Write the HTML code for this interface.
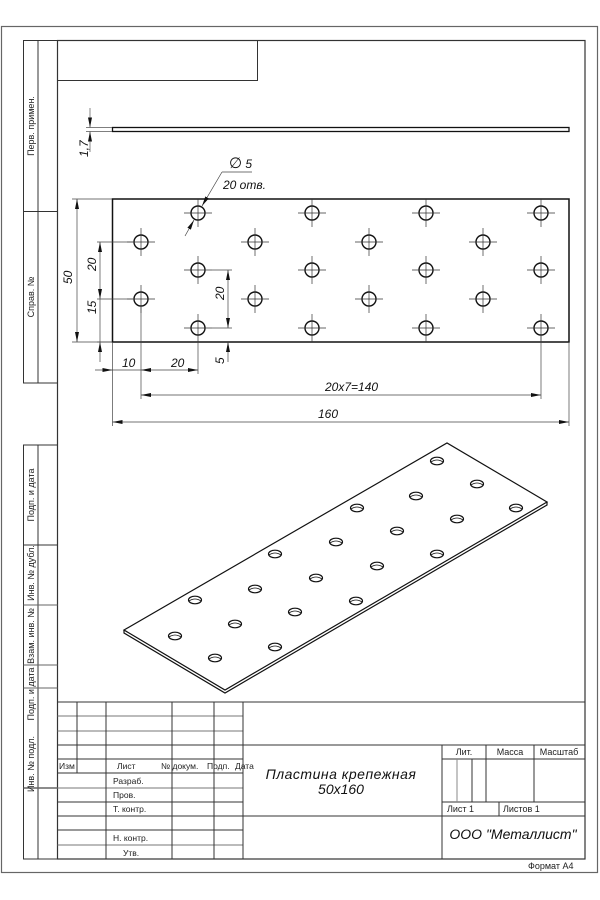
<!DOCTYPE html>
<html><head><meta charset="utf-8"><style>
html,body{margin:0;padding:0;background:#fff}
svg{display:block}
.s{font-family:"Liberation Sans",sans-serif;font-size:8.5px;fill:#222}
.v{font-family:"Liberation Sans",sans-serif;font-size:9px;fill:#222}
.i{font-family:"Liberation Sans",sans-serif;font-style:italic;fill:#111}
</style></head><body>
<svg width="600" height="900" viewBox="0 0 600 900" xmlns="http://www.w3.org/2000/svg">
<defs>
<marker id="a" viewBox="0 0 10 4" refX="10" refY="2" markerWidth="10" markerHeight="4" orient="auto-start-reverse" markerUnits="userSpaceOnUse"><path d="M0,0 L10,2 L0,4 Z" fill="#111"/></marker>
</defs>
<rect x="1.5" y="26.5" width="596" height="846" fill="none" stroke="#666" stroke-width="1.2"/>
<rect x="57.5" y="40.5" width="527.5" height="818.5" fill="none" stroke="#333" stroke-width="1.2"/>
<polyline points="57.5,40.5 23.5,40.5 23.5,383 57.5,383" fill="none" stroke="#333"/>
<line x1="38" y1="40.5" x2="38" y2="383" stroke="#333"/>
<line x1="23.5" y1="211.5" x2="57.5" y2="211.5" stroke="#333"/>
<polyline points="57.5,445 23.5,445 23.5,859 57.5,859" fill="none" stroke="#333"/>
<line x1="38" y1="445" x2="38" y2="859" stroke="#333"/>
<line x1="23.5" y1="545" x2="57.5" y2="545" stroke="#333"/>
<line x1="23.5" y1="605" x2="57.5" y2="605" stroke="#666"/>
<line x1="23.5" y1="665" x2="57.5" y2="665" stroke="#666"/>
<line x1="23.5" y1="688" x2="57.5" y2="688" stroke="#666"/>
<line x1="23.5" y1="788" x2="57.5" y2="788" stroke="#666" stroke-width="1.5"/>
<g class="v">
<text transform="translate(34,126) rotate(-90)" text-anchor="middle">Перв. примен.</text>
<text transform="translate(34,297) rotate(-90)" text-anchor="middle">Справ. №</text>
<text transform="translate(34,495) rotate(-90)" text-anchor="middle">Подп. и дата</text>
<text transform="translate(34,573) rotate(-90)" text-anchor="middle">Инв. № дубл.</text>
<text transform="translate(34,636) rotate(-90)" text-anchor="middle">Взам. инв. №</text>
<text transform="translate(34,694) rotate(-90)" text-anchor="middle">Подп. и дата</text>
<text transform="translate(34,764) rotate(-90)" text-anchor="middle">Инв. № подл.</text>
</g>
<polyline points="57.5,80.5 257.5,80.5 257.5,40.5" fill="none" stroke="#333"/>

<rect x="112.5" y="127.5" width="456.5" height="4" fill="none" stroke="#111" stroke-width="1.3"/>
<g stroke="#555" stroke-width="0.7">
<line x1="86" y1="127.5" x2="112" y2="127.5"/><line x1="86" y1="131.5" x2="112" y2="131.5"/>
<line x1="90" y1="108" x2="90" y2="127.5" marker-end="url(#a)"/>
<line x1="90" y1="152" x2="90" y2="131.5" marker-end="url(#a)"/>
</g>
<text class="i" font-size="12" transform="translate(88,157) rotate(-90)">1,7</text>

<rect x="112.5" y="199" width="456.5" height="143" fill="none" stroke="#111" stroke-width="1.5"/>
<g fill="none" stroke="#111" stroke-width="1.4">
<circle cx="198" cy="213" r="7"/><circle cx="312" cy="213" r="7"/><circle cx="426" cy="213" r="7"/><circle cx="541" cy="213" r="7"/>
<circle cx="141" cy="242" r="7"/><circle cx="255" cy="242" r="7"/><circle cx="369" cy="242" r="7"/><circle cx="483" cy="242" r="7"/>
<circle cx="198" cy="270" r="7"/><circle cx="312" cy="270" r="7"/><circle cx="426" cy="270" r="7"/><circle cx="541" cy="270" r="7"/>
<circle cx="141" cy="299" r="7"/><circle cx="255" cy="299" r="7"/><circle cx="369" cy="299" r="7"/><circle cx="483" cy="299" r="7"/>
<circle cx="198" cy="328" r="7"/><circle cx="312" cy="328" r="7"/><circle cx="426" cy="328" r="7"/><circle cx="541" cy="328" r="7"/>
</g>
<g stroke="#333" stroke-width="0.7">
<path d="M184,213h28M198,199v28M298,213h28M312,199v28M412,213h28M426,199v28M527,213h28M541,199v28
M127,242h28M141,228v28M241,242h28M255,228v28M355,242h28M369,228v28M469,242h28M483,228v28
M184,270h28M198,256v28M298,270h28M312,256v28M412,270h28M426,256v28M527,270h28M541,256v28
M127,299h28M141,285v28M241,299h28M255,285v28M355,299h28M369,285v28M469,299h28M483,285v28
M184,328h28M198,314v28M298,328h28M312,314v28M412,328h28M426,314v28M527,328h28M541,314v28"/>
</g>
<g stroke="#444" stroke-width="0.7" fill="none">
<line x1="72" y1="199" x2="112" y2="199"/><line x1="72" y1="342" x2="112" y2="342"/>
<line x1="77" y1="199" x2="77" y2="342" marker-start="url(#a)" marker-end="url(#a)"/>
<line x1="97" y1="242" x2="134" y2="242"/><line x1="97" y1="299" x2="134" y2="299"/><line x1="97" y1="342" x2="112" y2="342"/>
<line x1="100" y1="242" x2="100" y2="299" marker-start="url(#a)" marker-end="url(#a)"/>
<line x1="100" y1="362" x2="100" y2="342" marker-end="url(#a)"/>
<line x1="100" y1="299" x2="100" y2="342"/>
<line x1="212" y1="270" x2="232" y2="270"/><line x1="212" y1="328" x2="232" y2="328"/>
<line x1="228" y1="270" x2="228" y2="328" marker-start="url(#a)" marker-end="url(#a)"/>
<line x1="228" y1="362" x2="228" y2="342" marker-end="url(#a)"/>
<line x1="112.5" y1="342" x2="112.5" y2="426"/>
<line x1="141" y1="306" x2="141" y2="399"/>
<line x1="198" y1="342" x2="198" y2="374"/>
<line x1="541" y1="335" x2="541" y2="399"/>
<line x1="569" y1="342" x2="569" y2="426"/>
<line x1="95" y1="370" x2="112.5" y2="370" marker-end="url(#a)"/>
<line x1="112.5" y1="370" x2="141" y2="370"/>
<line x1="141" y1="370" x2="198" y2="370" marker-start="url(#a)" marker-end="url(#a)"/>
<line x1="141" y1="395" x2="541" y2="395" marker-start="url(#a)" marker-end="url(#a)"/>
<line x1="112.5" y1="422" x2="569" y2="422" marker-start="url(#a)" marker-end="url(#a)"/>
<line x1="185" y1="236" x2="194" y2="220" marker-end="url(#a)"/>
<line x1="222" y1="172" x2="202" y2="206" marker-end="url(#a)"/>
<line x1="222" y1="172" x2="252" y2="172"/>
</g>
<g class="i" font-size="12">
<text transform="translate(72,284) rotate(-90)">50</text>
<text transform="translate(96,271) rotate(-90)">20</text>
<text transform="translate(96,314) rotate(-90)">15</text>
<text transform="translate(224,300) rotate(-90)">20</text>
<text transform="translate(224,364) rotate(-90)">5</text>
<text x="122" y="367">10</text>
<text x="171" y="367">20</text>
<text x="325" y="391">20x7=140</text>
<text x="318" y="418">160</text>
<text x="229" y="168"><tspan font-size="15" font-style="normal">∅</tspan> 5</text>
<text x="223" y="189">20  отв.</text>
</g>

<polygon points="124,630 447,443 547,502 225,690" fill="#fff" stroke="#111" stroke-width="1.2"/>
<polyline points="124,630 124,633 225,693 547,505 547,502" fill="none" stroke="#111" stroke-width="1.2"/>
<g fill="#fff" stroke="#111" stroke-width="1.2">
<ellipse cx="437" cy="461" rx="6.5" ry="3.8"/><ellipse cx="477" cy="484" rx="6.5" ry="3.8"/>
<ellipse cx="416" cy="496" rx="6.5" ry="3.8"/><ellipse cx="516" cy="508" rx="6.5" ry="3.8"/>
<ellipse cx="357" cy="508" rx="6.5" ry="3.8"/><ellipse cx="457" cy="519" rx="6.5" ry="3.8"/>
<ellipse cx="397" cy="531" rx="6.5" ry="3.8"/><ellipse cx="336" cy="542" rx="6.5" ry="3.8"/>
<ellipse cx="275" cy="554" rx="6.5" ry="3.8"/><ellipse cx="437" cy="554" rx="6.5" ry="3.8"/>
<ellipse cx="377" cy="566" rx="6.5" ry="3.8"/><ellipse cx="316" cy="578" rx="6.5" ry="3.8"/>
<ellipse cx="255" cy="589" rx="6.5" ry="3.8"/><ellipse cx="195" cy="600" rx="6.5" ry="3.8"/>
<ellipse cx="356" cy="601" rx="6.5" ry="3.8"/><ellipse cx="295" cy="612" rx="6.5" ry="3.8"/>
<ellipse cx="235" cy="624" rx="6.5" ry="3.8"/><ellipse cx="175" cy="636" rx="6.5" ry="3.8"/>
<ellipse cx="275" cy="647" rx="6.5" ry="3.8"/><ellipse cx="215" cy="658" rx="6.5" ry="3.8"/>
</g>
<g fill="none" stroke="#111" stroke-width="0.8">
<path d="M431,462 q6,-4 12,0 M471,485 q6,-4 12,0 M410,497 q6,-4 12,0 M510,509 q6,-4 12,0 M351,509 q6,-4 12,0 M451,520 q6,-4 12,0 M391,532 q6,-4 12,0 M330,543 q6,-4 12,0 M269,555 q6,-4 12,0 M431,555 q6,-4 12,0 M371,567 q6,-4 12,0 M310,579 q6,-4 12,0 M249,590 q6,-4 12,0 M189,601 q6,-4 12,0 M350,602 q6,-4 12,0 M289,613 q6,-4 12,0 M229,625 q6,-4 12,0 M169,637 q6,-4 12,0 M269,648 q6,-4 12,0 M209,659 q6,-4 12,0"/>
</g>

<g stroke="#333" stroke-width="1" fill="none">
<line x1="57.5" y1="702" x2="585" y2="702"/>
<line x1="57.5" y1="716" x2="243" y2="716" stroke="#777"/>
<line x1="57.5" y1="731" x2="243" y2="731" stroke="#777"/>
<line x1="57.5" y1="745" x2="585" y2="745"/>
<line x1="57.5" y1="759" x2="243" y2="759"/>
<line x1="57.5" y1="773" x2="243" y2="773"/>
<line x1="57.5" y1="788" x2="243" y2="788" stroke="#777"/>
<line x1="57.5" y1="802" x2="243" y2="802"/>
<line x1="57.5" y1="816" x2="585" y2="816"/>
<line x1="57.5" y1="830" x2="243" y2="830"/>
<line x1="57.5" y1="845" x2="243" y2="845" stroke="#777"/>
<line x1="77" y1="702" x2="77" y2="773"/>
<line x1="106" y1="702" x2="106" y2="859"/>
<line x1="172" y1="702" x2="172" y2="859"/>
<line x1="214" y1="702" x2="214" y2="859"/>
<line x1="243" y1="702" x2="243" y2="859"/>
<line x1="442" y1="745" x2="442" y2="859"/>
<line x1="442" y1="759" x2="585" y2="759"/>
<line x1="442" y1="802" x2="585" y2="802"/>
<line x1="486" y1="745" x2="486" y2="802"/>
<line x1="534" y1="745" x2="534" y2="802"/>
<line x1="457" y1="759" x2="457" y2="802" stroke="#888"/>
<line x1="472" y1="759" x2="472" y2="802"/>
<line x1="499" y1="802" x2="499" y2="816"/>
</g>
<g class="s">
<text x="59" y="769">Изм</text>
<text x="117" y="769">Лист</text>
<text x="161" y="769">№ докум.</text>
<text x="207" y="769">Подп.</text>
<text x="235" y="769">Дата</text>
<text x="113" y="784">Разраб.</text>
<text x="113" y="798">Пров.</text>
<text x="113" y="812">Т. контр.</text>
<text x="113" y="841">Н. контр.</text>
<text x="123" y="856">Утв.</text>
</g>
<g class="v">
<text x="464" y="755" text-anchor="middle">Лит.</text>
<text x="510" y="755" text-anchor="middle">Масса</text>
<text x="559" y="755" text-anchor="middle">Масштаб</text>
<text x="447" y="812">Лист 1</text>
<text x="503" y="812">Листов 1</text>
<text x="528" y="869">Формат А4</text>
</g>
<g class="i" font-size="14" text-anchor="middle">
<text x="341" y="779" letter-spacing="0.5">Пластина крепежная</text>
<text x="341" y="794">50x160</text>
<text x="513" y="839">ООО "Металлист"</text>
</g>
</svg>
</body></html>
